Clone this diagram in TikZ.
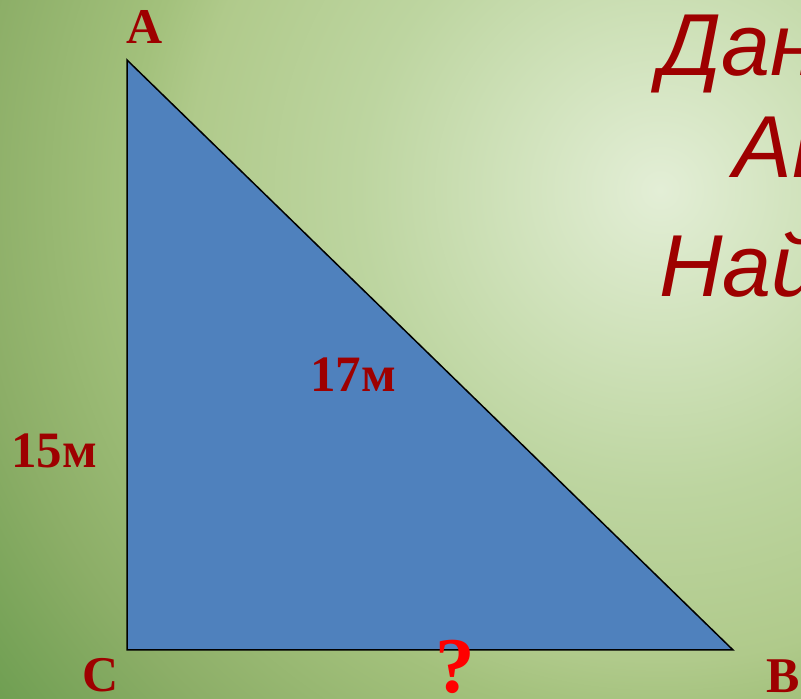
\documentclass[tikz,border=0pt]{standalone}
\usepackage{fontspec}
\setmainfont{Liberation Serif}
\newfontfamily\sansfam{Liberation Sans}
\definecolor{bgA}{HTML}{E3EED6}
\definecolor{bgB}{HTML}{D0E2BB}
\definecolor{bgC}{HTML}{BDD5A0}
\definecolor{bgD}{HTML}{B0CA8B}
\definecolor{bgE}{HTML}{A3C17C}
\definecolor{bgF}{HTML}{8CAE67}
\definecolor{bgG}{HTML}{6E9E51}
\definecolor{triblue}{HTML}{4F81BD}
\definecolor{darkred}{HTML}{9E0000}
\pgfdeclareradialshading{bgshade}{\pgfpoint{0bp}{0bp}}{color(0bp)=(bgA); color(4.45bp)=(bgB); color(8.95bp)=(bgC); color(14bp)=(bgD); color(15.75bp)=(bgE); color(20.5bp)=(bgF); color(25bp)=(bgG); color(50bp)=(bgG)}
\tikzset{
  vlabel/.style={text=darkred, font=\fontsize{50}{56}\selectfont\bfseries, inner sep=0pt, anchor=base west},
  slabel/.style={text=darkred, font=\fontsize{51}{56}\selectfont\bfseries, inner sep=0pt, anchor=base west},
  qlabel/.style={text=red, font=\fontsize{79}{80}\selectfont\bfseries, inner sep=0pt, anchor=base west},
  rtext/.style={text=darkred, font=\sansfam\itshape\fontsize{88}{100}\selectfont, inner sep=0pt, anchor=base west},
  tri/.style={fill=triblue, draw=black, line width=1.5pt, line join=miter}
}
\begin{document}
\begin{tikzpicture}[x=1pt,y=1pt]
\useasboundingbox (0,0) rectangle (801,699);
\begin{scope}
\clip (0,0) rectangle (801,699);
\shade[shading=bgshade] (660,509) circle (840);
\end{scope}
\coordinate (A) at (127,639);
\coordinate (C) at (127,49);
\coordinate (B) at (733,49);
\draw[tri] (A) -- (C) -- (B) -- cycle;
\node[vlabel] (la) at (126,655) {A};
\node[vlabel] (lc) at (82,7) {C};
\node[vlabel] (lb) at (766,6) {B};
\node[slabel] (l15) at (11,231) {15м};
\node[slabel] (l17) at (310,307) {17м};
\node[qlabel] (lq) at (435,6) {?};
\begin{scope}
\clip (0,0) rectangle (801,699);
\node[rtext] (t1) at (659,623) {Дан};
\node[rtext] (t2) at (733,521) {АВ};
\node[rtext] (t3) at (659,402) {Най};
\end{scope}
\end{tikzpicture}
\end{document}
